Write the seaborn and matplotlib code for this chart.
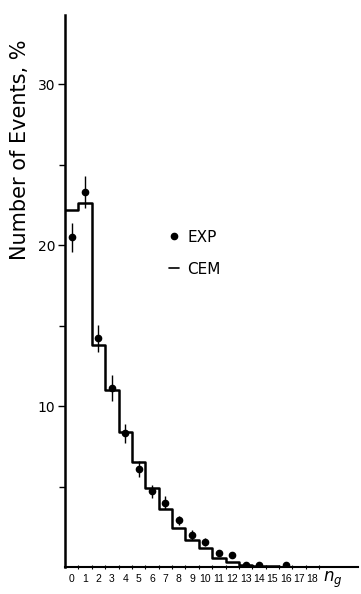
import numpy as np
import pandas as pd
import matplotlib
matplotlib.use("Agg")
import matplotlib.pyplot as plt
import seaborn as sns
from matplotlib.lines import Line2D

# ---- data ----
n_bins = list(range(0, 18))
cem_values = [22.2, 22.6, 13.8, 11.0, 8.4, 6.5, 4.9, 3.6, 2.4, 1.7, 1.2, 0.55, 0.3, 0.12, 0.08, 0.05, 0.02, 0.01]
exp_n = [0, 1, 2, 3, 4, 5, 6, 7, 8, 9, 10, 11, 12, 13, 14, 16]
exp_values = [20.5, 23.3, 14.2, 11.1, 8.3, 6.1, 4.7, 4.0, 2.9, 2.0, 1.55, 0.87, 0.75, 0.12, 0.15, 0.15]
exp_errors = [0.9, 1.0, 0.85, 0.8, 0.6, 0.5, 0.4, 0.4, 0.3, 0.3, 0.25, 0.2, 0.2, 0.05, 0.05, 0.05]
x_tick_labels = [str(i) for i in range(0, 19)]
y_ticks = [10, 20, 30]

sns.set_style("ticks")
plt.rcParams['font.family'] = ['DejaVu Sans']
plt.rcParams['text.color'] = 'black'
plt.rcParams['xtick.color'] = 'black'
plt.rcParams['ytick.color'] = 'black'
plt.rcParams['axes.edgecolor'] = 'black'

fig = plt.figure(figsize=(3.61, 5.94), dpi=100)
ax = fig.add_axes([65/361, 1-567/594, (358-65)/361, (567-15)/594])

df = pd.DataFrame({"n": n_bins, "cem": cem_values})
sns.histplot(data=df, x="n", weights="cem", discrete=True, element="step",
             fill=False, color="black", linewidth=1.8, ax=ax)

ax.errorbar(exp_n, exp_values, yerr=exp_errors, fmt="o", color="black",
            markersize=4.5, elinewidth=1.0, capsize=0)

ax.set_xlim(-0.5, 21.4)
ax.set_ylim(0, 34.3)
ax.set_xticks(range(0, 19))
ax.set_xticklabels(x_tick_labels, fontsize=7.5, family="Liberation Sans")
ax.set_xticks(np.arange(0.5, 19.5, 1.0), minor=True)
ax.tick_params(axis="x", which="major", length=0, pad=5)
ax.tick_params(axis="x", which="minor", length=3, direction="inout", width=0.8)
ax.set_yticks(y_ticks)
ax.set_yticklabels([str(v) for v in y_ticks], fontsize=10)
ax.set_yticks([5, 15, 25], minor=True)
ax.tick_params(axis="y", which="major", length=5, width=1.0, direction="out", pad=2)
ax.tick_params(axis="y", which="minor", length=4, width=1.0, direction="out")
ax.set_xlabel("")
ax.set_ylabel("")
for s in ["top", "right"]:
    ax.spines[s].set_visible(False)
ax.spines["left"].set_linewidth(1.8)
ax.spines["bottom"].set_linewidth(1.5)

fig.text(20/361, 1-150/594, "Number of Events, %", rotation=90, ha="center",
         va="center", fontsize=15)
fig.text(333/361, 1-580/594, "$n_g$", ha="center", va="center", fontsize=12)

handles = [Line2D([], [], marker="o", linestyle="none", color="black", markersize=4.5),
           Line2D([], [], color="black", linewidth=1.2)]
ax.legend(handles=handles, labels=["EXP", "CEM"], loc="upper left",
          bbox_to_anchor=(155/361, 1-216/594), bbox_transform=fig.transFigure,
          frameon=False, fontsize=11, handlelength=0.7, handletextpad=0.5,
          labelspacing=1.1)

fig.savefig("out.png", dpi=100)
